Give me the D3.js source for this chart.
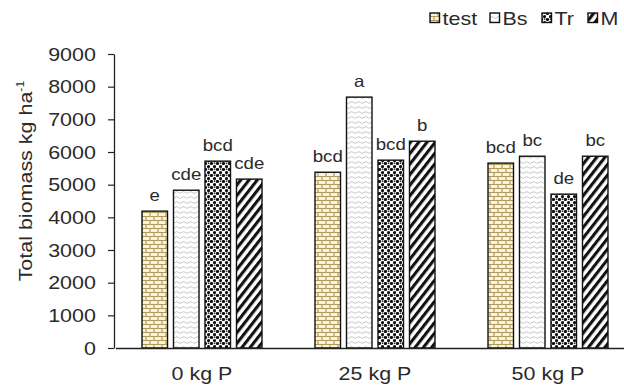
<!DOCTYPE html>
<html><head><meta charset="utf-8">
<script src="https://cdn.jsdelivr.net/npm/d3@7/dist/d3.min.js"></script>
<style>body{margin:0;background:#fff;font-family:Arial,"Liberation Sans",sans-serif}</style>
</head><body><svg id="c" width="624" height="388"></svg>
<script>
const categories = ["0 kg P", "25 kg P", "50 kg P"];
const seriesNames = ["test", "Bs", "Tr", "M"];
const testVals = [4190, 5380, 5660];
const bsVals = [4830, 7680, 5870];
const trVals = [5720, 5750, 4710];
const mVals = [5170, 6330, 5870];
const testLetters = ["e", "bcd", "bcd"];
const bsLetters = ["cde", "a", "bc"];
const trLetters = ["bcd", "bcd", "de"];
const mLetters = ["cde", "b", "bc"];
const yTicks = [0,1000,2000,3000,4000,5000,6000,7000,8000,9000];

const values = [testVals, bsVals, trVals, mVals];
const letters = [testLetters, bsLetters, trLetters, mLetters];
const SX = 1.13, FS = 19, FONT = "Arial,'Liberation Sans',sans-serif";

const svg = d3.select("#c");
const defs = svg.append("defs");
// brick
let p = defs.append("pattern").attr("id","pat0").attr("patternUnits","userSpaceOnUse").attr("width",8).attr("height",8);
p.append("rect").attr("width",8).attr("height",8).attr("fill","#fbf4dd");
p.append("path").attr("d","M0,0.5H8M0,4.5H8M2,0V4.5M6,4.5V8").attr("stroke","#b09a5e").attr("stroke-width",1.2).attr("fill","none");
// wave
p = defs.append("pattern").attr("id","pat1").attr("patternUnits","userSpaceOnUse").attr("width",7).attr("height",5);
p.append("rect").attr("width",7).attr("height",5).attr("fill","#fff");
p.append("path").attr("d","M0,2.5 Q1.75,0.8 3.5,2.5 T7,2.5").attr("stroke","#b5b5b5").attr("stroke-width",0.8).attr("fill","none");
// dots
p = defs.append("pattern").attr("id","pat2").attr("patternUnits","userSpaceOnUse").attr("width",6).attr("height",6);
p.append("rect").attr("width",6).attr("height",6).attr("fill","#fff");
p.append("circle").attr("cx",1.5).attr("cy",1.5).attr("r",1.6).attr("fill","#111");
p.append("circle").attr("cx",4.5).attr("cy",4.5).attr("r",1.6).attr("fill","#111");
p.append("circle").attr("cx",4.6).attr("cy",1.2).attr("r",0.9).attr("fill","#333");
// diagonal
p = defs.append("pattern").attr("id","pat3").attr("patternUnits","userSpaceOnUse").attr("width",6.5).attr("height",6.5).attr("patternTransform","rotate(38)");
p.append("rect").attr("width",6.5).attr("height",6.5).attr("fill","#fff");
p.append("rect").attr("width",3.1).attr("height",6.5).attr("fill","#111");

const x0 = d3.scaleBand().domain(categories).range([115.5, 634.5]);
const x1 = d3.scaleBand().domain(seriesNames).range([0, 120]).paddingInner(0.19);
const y = d3.scaleLinear().domain([0, 9000]).range([348, 54]);

function sText(sel, x, yy) {
  return sel.attr("transform", `translate(${x},${yy}) scale(${SX},1)`);
}

const g = svg.append("g");
seriesNames.forEach((s, si) => {
  categories.forEach((c, ci) => {
    const bx = x0(c) + x0.bandwidth()/2 - 60 + x1(s);
    g.append("rect").attr("x", bx).attr("y", y(values[si][ci])).attr("width", x1.bandwidth()).attr("height", y(0)-y(values[si][ci]))
      .attr("fill","url(#pat"+si+")").attr("stroke","#111").attr("stroke-width",1.4);
    sText(g.append("text"), bx + x1.bandwidth()/2, y(values[si][ci]) - 10).attr("text-anchor","middle")
      .attr("font-size",16.5).attr("fill","#2a2a2a").attr("font-family",FONT).text(letters[si][ci]);
  });
});

// y axis
const ya = svg.append("g").attr("transform","translate(114,0)").call(d3.axisLeft(y).tickValues(yTicks).tickSize(6).tickSizeOuter(0).tickFormat(d3.format("d")));
ya.select(".domain").attr("stroke","#222").attr("stroke-width",1.3);
ya.selectAll(".tick line").attr("stroke","#222").attr("stroke-width",1.2);
ya.selectAll(".tick text").attr("x",-16).attr("font-size",FS).attr("fill","#2a2a2a").attr("font-family",FONT)
  .attr("transform",`scale(${SX},1)`);

// x axis
const xa = svg.append("g").attr("transform","translate(0,348)").call(d3.axisBottom(x0).tickSize(0).tickPadding(19));
xa.select(".domain").attr("stroke","#222").attr("stroke-width",1.5);
xa.selectAll(".tick text").attr("font-size",FS).attr("fill","#2a2a2a").attr("font-family",FONT)
  .attr("transform",`scale(${SX},1)`);

// y label
const yl = svg.append("text").attr("transform",`translate(32,181) rotate(-90) scale(${SX},1)`).attr("text-anchor","middle")
  .attr("font-size",FS).attr("fill","#2a2a2a").attr("font-family",FONT);
yl.append("tspan").text("Total biomass kg ha");
yl.append("tspan").attr("font-size",11).attr("dy",-8).text("-1");

// legend
const legX = [430, 490, 542, 588];
seriesNames.forEach((s, i) => {
  svg.append("rect").attr("x", legX[i]).attr("y", 13).attr("width", 9.5).attr("height", 9.5)
    .attr("fill","url(#pat"+i+")").attr("stroke","#111").attr("stroke-width",1.4);
  sText(svg.append("text"), legX[i] + 12.5, 25).attr("font-size",FS).attr("fill","#2a2a2a").attr("font-family",FONT).text(s);
});
</script></body></html>
